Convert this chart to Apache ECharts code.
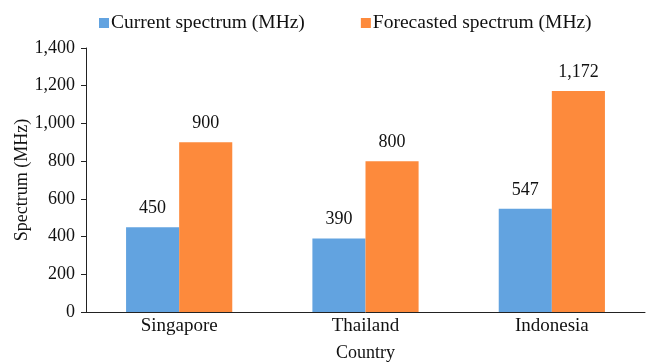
<!DOCTYPE html>
<html>
<head>
<meta charset="utf-8">
<script src="https://cdn.jsdelivr.net/npm/echarts@6/dist/echarts.min.js"></script>
<style>
  html, body { margin: 0; padding: 0; background: #fff; }
  #chart { width: 650px; height: 362px; }
</style>
</head>
<body>
<div id="chart"></div>
<script>
// Spectrum allocation by country
const countries = ['Singapore', 'Thailand', 'Indonesia'];
const currentSpectrum = [450, 390, 547];
const forecastSpectrum = [900, 800, 1172];
const seriesNames = ['Current spectrum (MHz)', 'Forecasted spectrum (MHz)'];

const FONT = '"Liberation Serif", "Times New Roman", serif';
const fmt = v => v.toLocaleString('en-US');

const chart = echarts.init(document.getElementById('chart'), null, { renderer: 'canvas' });

const labelStyle = {
  show: true,
  position: 'top',
  distance: 10,
  fontFamily: FONT,
  fontSize: 18,
  color: '#111',
  formatter: p => fmt(p.value)
};

chart.setOption({
  animation: false,
  textStyle: { fontFamily: FONT },
  legend: {
    top: 8,
    left: 94,
    itemGap: 56,
    itemWidth: 10,
    itemHeight: 10,
    icon: 'rect',
    itemStyle: { borderWidth: 0 },
    textStyle: { fontFamily: FONT, fontSize: 19.5, color: '#111', padding: [0, 0, 0, -3] },
    data: seriesNames
  },
  grid: { left: 86, right: 5, top: 48, bottom: 50, outerBoundsMode: 'none', containLabel: false },
  xAxis: {
    type: 'category',
    data: countries,
    name: 'Country',
    nameLocation: 'middle',
    nameGap: 32,
    nameMoveOverlap: false,
    nameTextStyle: { fontFamily: FONT, fontSize: 18, color: '#111' },
    axisLine: { lineStyle: { color: '#222', width: 1 } },
    axisTick: { show: false },
    axisLabel: { fontFamily: FONT, fontSize: 19, color: '#111', margin: 5 }
  },
  yAxis: {
    type: 'value',
    min: 0,
    max: 1400,
    interval: 200,
    name: 'Spectrum (MHz)',
    nameLocation: 'middle',
    nameGap: 55,
    nameMoveOverlap: false,
    nameTextStyle: { fontFamily: FONT, fontSize: 18, color: '#111' },
    axisLine: { show: true, lineStyle: { color: '#222', width: 1 } },
    axisTick: { show: true, length: 5, lineStyle: { color: '#222' } },
    splitLine: { show: false },
    axisLabel: { fontFamily: FONT, fontSize: 18, color: '#111', margin: 11, formatter: v => fmt(v) }
  },
  series: [
    {
      name: seriesNames[0],
      type: 'bar',
      data: currentSpectrum,
      barGap: '0%',
      barCategoryGap: '43%',
      itemStyle: { color: '#62a3e0' },
      label: labelStyle
    },
    {
      name: seriesNames[1],
      type: 'bar',
      data: forecastSpectrum,
      barGap: '0%',
      barCategoryGap: '43%',
      itemStyle: { color: '#fd8a3c' },
      label: labelStyle
    }
  ]
});
</script>
</body>
</html>
